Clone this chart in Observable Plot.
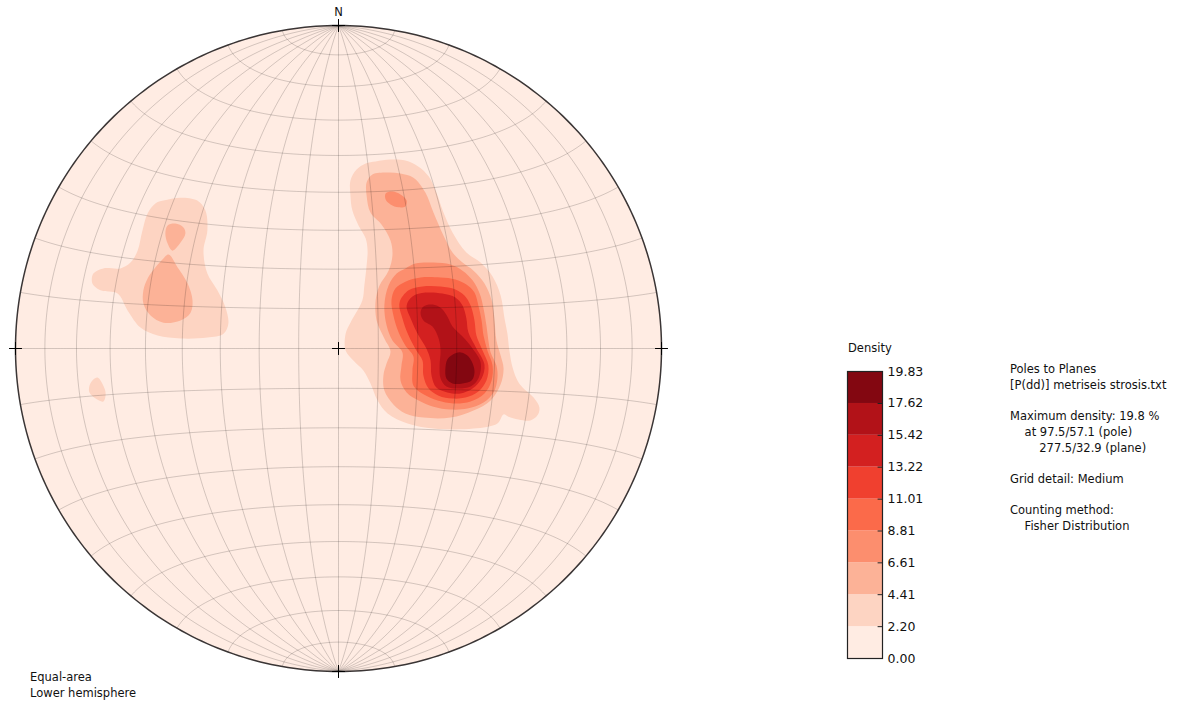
<!DOCTYPE html>
<html><head><meta charset="utf-8">
<script src="https://cdn.jsdelivr.net/npm/d3@7"></script>
<script src="https://cdn.jsdelivr.net/npm/@observablehq/plot@0.6"></script>
<style>
html,body{margin:0;padding:0;background:#fff;}
#wrap{position:relative;width:1182px;height:702px;overflow:hidden;font-family:"DejaVu Sans",sans-serif;}
#wrap svg{position:absolute;}
.txt{position:absolute;font-size:11.5px;line-height:15.7px;color:#111;white-space:pre;margin:0;font-family:"DejaVu Sans",sans-serif;}
</style></head><body><div id="wrap"></div>
<script>
// ---------- data ----------
const densityTicks = [0.00, 2.20, 4.41, 6.61, 8.81, 11.01, 13.22, 15.42, 17.62, 19.83];
const netInfo = ["Equal-area", "Lower hemisphere"];
const infoLines = [
  "Poles to Planes",
  "[P(dd)] metriseis strosis.txt",
  "",
  "Maximum density: 19.8 %",
  "    at 97.5/57.1 (pole)",
  "        277.5/32.9 (plane)",
  "",
  "Grid detail: Medium",
  "",
  "Counting method:",
  "    Fisher Distribution"
];
// contour rings in net coordinates (net radius = 100, x east, y north)
const lvl2Main = [[11.5,57.9],[16.1,58.5],[20.7,58.2],[24.8,56.3],[27.9,53.3],[30.3,48.3],[32.5,42.1],[35.3,35.9],[39.6,29.7],[44.0,26.6],[47.7,22.3],[50.2,16.4],[51.4,9.3],[52.3,4.6],[52.9,-0.6],[53.9,-5.9],[55.4,-9.9],[57.0,-12.1],[60.4,-15.2],[62.2,-18.3],[61.6,-20.7],[59.4,-22.3],[55.7,-22.0],[52.6,-21.1],[51.1,-20.4],[49.2,-23.2],[41.8,-24.8],[29.4,-24.8],[21.4,-23.2],[15.2,-20.1],[12.1,-16.1],[9.9,-10.8],[7.7,-6.8],[4.6,-3.7],[2.2,-0.6],[2.2,4.6],[3.7,8.0],[5.3,10.8],[7.4,14.9],[8.0,19.5],[8.7,25.7],[9.0,30.3],[8.4,34.1],[6.2,38.1],[4.3,42.7],[3.7,47.4],[3.7,52.0],[5.6,55.4],[8.4,57.3]];
const lvl2West = [[-54.2,45.8],[-48.9,46.7],[-43.7,45.8],[-41.2,42.7],[-40.6,36.5],[-41.8,30.3],[-40.6,23.2],[-37.5,18.0],[-35.0,12.7],[-34.1,7.7],[-35.6,4.6],[-40.6,3.4],[-48.9,3.1],[-56.0,4.0],[-61.3,6.5],[-65.3,11.8],[-68.4,17.0],[-73.7,18.0],[-76.2,20.1],[-75.9,23.2],[-72.8,24.8],[-67.5,24.8],[-64.4,26.6],[-62.2,30.3],[-60.7,36.5],[-59.1,41.8],[-56.7,44.9]];
const lvl2Speck = [[-74.6,-9.0],[-72.8,-11.5],[-72.1,-13.9],[-72.8,-16.4],[-75.2,-15.5],[-77.1,-13.6],[-77.1,-11.5],[-75.9,-9.6]];
const lvl3Main = [[10.5,53.9],[14.9,54.5],[19.2,54.2],[23.2,52.9],[26.9,48.3],[29.4,42.1],[32.5,35.0],[35.3,29.7],[38.4,26.6],[41.8,24.1],[45.2,20.1],[47.4,14.9],[48.3,8.7],[48.9,2.5],[50.2,-2.2],[51.1,-6.2],[50.2,-11.1],[47.1,-16.1],[41.8,-19.2],[34.7,-21.4],[26.3,-21.4],[20.7,-20.1],[17.0,-17.3],[14.2,-13.0],[13.9,-8.4],[14.9,-4.6],[16.1,-0.9],[14.2,3.1],[11.8,8.7],[11.5,14.9],[12.7,19.5],[15.5,24.1],[16.7,28.8],[16.1,33.4],[13.3,38.4],[9.9,42.1],[8.7,47.4],[8.7,51.4]];
const lvl3WestUpper = [[-52.9,38.1],[-50.5,38.7],[-48.0,37.5],[-47.4,35.6],[-48.9,32.8],[-51.4,30.3],[-52.9,32.5],[-53.6,35.6]];
const lvl3WestLower = [[-52.6,29.1],[-49.8,25.1],[-46.7,20.1],[-45.2,14.9],[-45.8,11.1],[-48.9,8.7],[-54.2,8.0],[-58.2,10.2],[-60.4,13.9],[-60.4,18.0],[-59.1,21.7],[-56.7,25.1],[-54.2,27.9]];
const lvl4North = [[14.6,48.0],[16.7,48.6],[19.2,47.7],[21.1,45.8],[20.7,44.0],[18.6,43.7],[16.1,44.6],[14.6,46.1]];
const lvl4Main = [[20.7,24.8],[23.8,26.3],[29.4,26.6],[34.7,26.0],[38.4,24.1],[41.5,21.1],[43.7,17.0],[44.9,12.4],[45.8,7.1],[46.4,2.5],[47.1,-1.2],[48.9,-5.3],[49.2,-9.3],[48.0,-13.6],[44.9,-16.7],[39.9,-18.6],[34.7,-18.9],[29.4,-18.0],[24.8,-16.1],[21.1,-13.6],[19.2,-9.9],[19.5,-5.3],[19.8,-1.2],[16.7,2.5],[14.9,7.1],[14.2,13.3],[15.5,19.5],[18.0,23.2]];
const lvl5Main = [[20.7,20.7],[25.4,22.0],[31.6,22.0],[36.2,21.4],[39.6,19.8],[42.1,17.3],[43.3,13.3],[44.3,8.7],[44.9,4.0],[46.1,-0.6],[47.7,-5.3],[47.4,-9.9],[45.2,-13.9],[40.9,-16.4],[35.6,-17.0],[30.7,-16.1],[26.3,-14.2],[23.2,-11.5],[22.9,-6.8],[23.2,-2.5],[20.7,0.9],[18.6,5.0],[17.0,10.2],[16.4,14.9],[17.6,18.6]];
const lvl6Main = [[21.7,18.0],[26.0,19.2],[31.6,19.2],[36.2,18.3],[39.0,16.4],[40.9,13.3],[42.1,8.7],[42.7,4.0],[44.6,-0.6],[46.4,-5.3],[45.8,-9.9],[43.3,-13.3],[39.3,-15.2],[35.3,-15.5],[31.0,-14.6],[27.9,-12.4],[26.3,-8.4],[26.0,-3.7],[24.1,-0.6],[21.7,4.0],[19.8,9.3],[18.9,14.2]];
const lvl7Main = [[22.9,16.1],[26.9,17.3],[32.2,17.0],[36.2,15.8],[38.4,13.3],[39.6,9.3],[40.2,5.0],[42.7,0.0],[45.2,-5.0],[44.3,-9.3],[41.5,-12.4],[37.8,-13.9],[33.7,-13.6],[30.3,-12.1],[28.8,-8.4],[28.5,-3.7],[27.2,0.0],[24.8,4.0],[22.6,8.7],[21.1,13.3]];
const lvl8Main = [[26.3,13.0],[29.1,13.6],[31.9,12.4],[33.7,9.9],[35.3,6.8],[38.4,3.7],[41.5,0.0],[44.0,-4.3],[43.3,-9.3],[40.9,-11.8],[37.2,-12.4],[33.4,-11.8],[31.6,-9.3],[31.3,-5.3],[31.6,-0.6],[31.0,3.1],[29.1,6.8],[26.3,8.7],[25.4,11.1]];
const lvl9Main = [[35.3,-1.9],[37.8,-1.2],[39.9,-2.2],[41.5,-4.6],[42.1,-7.4],[41.2,-9.9],[38.4,-10.8],[35.3,-10.8],[33.4,-9.3],[33.1,-6.2],[33.7,-3.4]];

// filled contour table: band index (0 = lowest) and ring
const contours = [
  {band: 1, ring: lvl2Main}, {band: 1, ring: lvl2West}, {band: 1, ring: lvl2Speck},
  {band: 2, ring: lvl3Main}, {band: 2, ring: lvl3WestUpper}, {band: 2, ring: lvl3WestLower},
  {band: 3, ring: lvl4North}, {band: 3, ring: lvl4Main},
  {band: 4, ring: lvl5Main}, {band: 5, ring: lvl6Main}, {band: 6, ring: lvl7Main},
  {band: 7, ring: lvl8Main}, {band: 8, ring: lvl9Main}
];

// ---------- styles ----------
const bandColors = ["#ffece3","#fdd4c2","#fcb297","#fc8e6e","#fb6a4a","#f0402f","#d32020","#b21218","#830711"];

// ---------- geometry (equal-area net) ----------
const R = 100;
const rad = Math.PI / 180;
function eqArea(lon, lat) {
  const l = lon * rad, p = lat * rad;
  const k = Math.sqrt(2 / (1 + Math.cos(p) * Math.cos(l)));
  return [R * k * Math.cos(p) * Math.sin(l) / Math.SQRT2, R * k * Math.sin(p) / Math.SQRT2];
}
const gridPts = [];
for (let lon = -80; lon <= 80; lon += 10)
  for (let lat = -90; lat <= 90; lat += 1) { const [x, y] = eqArea(lon, lat); gridPts.push({id: "m" + lon, x, y}); }
for (let lat = -80; lat <= 80; lat += 10)
  for (let lon = -90; lon <= 90; lon += 1) { const [x, y] = eqArea(lon, lat); gridPts.push({id: "p" + lat, x, y}); }
const rim = d3.range(0, 360, 1).map(a => ({x: R * Math.cos(a * rad), y: R * Math.sin(a * rad)}));
const cardinal = [[0, 0], [0, R], [0, -R], [R, 0], [-R, 0]];
const s = 2;
const crossSegs = cardinal.flatMap(([x, y]) => [
  {x1: x - s, x2: x + s, y1: y, y2: y},
  {x1: x, x2: x, y1: y - s, y2: y + s}
]);

const wrap = document.getElementById("wrap");

const main = Plot.plot({
  width: 1182, height: 702,
  marginLeft: 15, marginRight: 521, marginTop: 25, marginBottom: 31,
  x: {domain: [-R, R], axis: null},
  y: {domain: [-R, R], axis: null},
  style: {fontFamily: "DejaVu Sans, sans-serif", background: "transparent", overflow: "visible"},
  marks: [
    Plot.line(rim, {x: "x", y: "y", curve: "linear-closed", fill: bandColors[0], stroke: "none"}),
    ...contours.map(c => Plot.line(c.ring, {x: d => d[0], y: d => d[1], curve: "catmull-rom-closed", fill: bandColors[c.band], stroke: "none"})),
    Plot.line(gridPts, {x: "x", y: "y", z: "id", stroke: "#000", strokeOpacity: 0.22, strokeWidth: 0.8}),
    Plot.line(rim, {x: "x", y: "y", curve: "linear-closed", fill: "none", stroke: "#3a3535", strokeWidth: 1.5}),
    Plot.link(crossSegs, {x1: "x1", x2: "x2", y1: "y1", y2: "y2", stroke: "#000", strokeWidth: 1}),
    Plot.text([{x: 0, y: R}], {x: "x", y: "y", text: () => "N", dy: -13, fontSize: 11.5, fill: "#111"})
  ]
});
main.style.left = "0px"; main.style.top = "0px";
wrap.appendChild(main);

// ---------- colour bar ----------
const bands = d3.range(9).map(i => ({lo: densityTicks[i], hi: densityTicks[i + 1], color: bandColors[i]}));
const cb = Plot.plot({
  width: 100, height: 307,
  marginLeft: 0, marginRight: 65, marginTop: 10, marginBottom: 10,
  x: {domain: [0, 1], axis: null},
  y: {domain: [densityTicks[0], densityTicks[densityTicks.length - 1]], axis: null},
  color: {type: "identity"},
  style: {fontFamily: "DejaVu Sans, sans-serif", background: "transparent", overflow: "visible"},
  marks: [
    Plot.rect(bands, {x1: 0, x2: 1, y1: "lo", y2: "hi", fill: "color"}),
    Plot.link(densityTicks, {x1: 0.86, x2: 1, y1: d => d, y2: d => d, stroke: "#222", strokeWidth: 1}),
    Plot.frame({stroke: "#222", strokeWidth: 1.2}),
    Plot.axisY({anchor: "right", ticks: densityTicks, tickSize: 0, tickPadding: 5, tickFormat: d => d.toFixed(2), fontSize: 12.5, label: null, fill: "#111"})
  ]
});
cb.style.left = "847px"; cb.style.top = "361px";
wrap.appendChild(cb);

// ---------- text ----------
function addText(lines, left, top) {
  const el = document.createElement("div");
  el.className = "txt";
  el.style.left = left + "px"; el.style.top = top + "px";
  el.textContent = lines.join("\n");
  wrap.appendChild(el);
}
addText(["Density"], 848, 341);
addText(infoLines, 1010, 362);
addText(netInfo, 30, 670);
</script></body></html>
